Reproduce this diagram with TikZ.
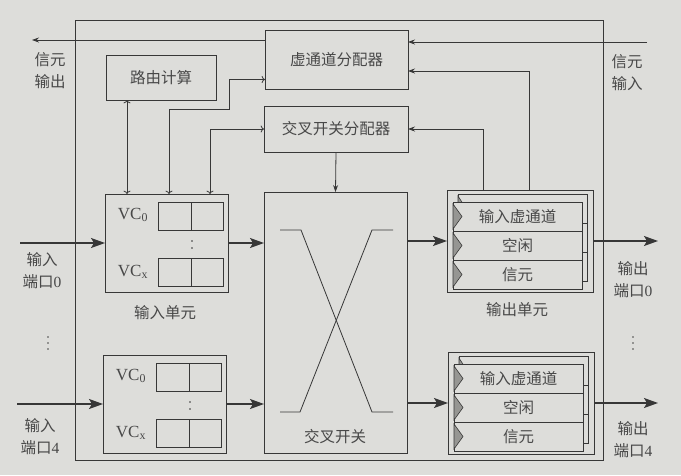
\documentclass[tikz,border=0pt]{standalone}
\usepackage{fontspec}
\setmainfont{Liberation Serif}
\newfontfamily\cjk{Noto Sans CJK SC}
\usetikzlibrary{arrows.meta}

\definecolor{bgcol}{RGB}{221,221,218}
\definecolor{linecol}{RGB}{55,55,55}
\definecolor{textcol}{RGB}{72,72,72}
\definecolor{tabcol}{RGB}{150,150,147}

\tikzset{
  box/.style={draw=linecol, line width=0.9pt, fill=bgcol, anchor=north west,
    inner sep=0pt, outer sep=0pt, text=textcol, font=\cjk\fontsize{15.5}{22}\selectfont},
  buf/.style={draw=linecol, line width=0.9pt, anchor=north west, inner sep=0pt,
    minimum width=65pt, minimum height=28pt},
  row/.style={box, line width=0.8pt, minimum width=129pt, minimum height=29pt},
  lbl/.style={text=textcol, font=\cjk\fontsize{15.5}{22}\selectfont, align=center, inner sep=0pt},
  vc/.style={text=textcol, font=\fontsize{17}{20}\selectfont, inner sep=0pt},
  tab/.style={draw=linecol, line width=0.6pt, fill=tabcol},
  data/.style={draw=linecol, line width=1.4pt, -{Stealth[length=14pt,width=10pt,inset=3pt]}},
  ctrl/.style={draw=linecol, line width=0.8pt, -{Stealth[length=7pt,width=5pt]}}
}

\begin{document}
\begin{tikzpicture}[x=1pt,y=-1pt]
  % Background and page size
  \fill[bgcol] (0,0) rectangle (681,475);
  \useasboundingbox (0,0) rectangle (681,475);

  % Router frame
  \draw[linecol, line width=0.9pt] (75,20) rectangle (603,460);

  % Allocators and route computation
  \node[box, minimum width=110pt, minimum height=45pt] (rc) at (106,55) {路由计算};
  \node[box, minimum width=143pt, minimum height=59pt] (vca) at (265,30) {虚通道分配器};
  \node[box, minimum width=144pt, minimum height=46pt] (xa) at (264,106) {交叉开关分配器};

  % Crossbar switch
  \node[box, minimum width=143pt, minimum height=261pt] (xbar) at (264,192) {};
  \draw[linecol, line width=0.8pt] (280,230) -- (301,230) -- (372,412) -- (393,412);
  \draw[linecol, line width=0.8pt] (280,412) -- (300,412) -- (372,230) -- (393,230);
  \node[lbl] (lxbar) at (335,437) {交叉开关};

  % Input units
  \foreach \u/\x/\y in {0/105/194, 4/103/355} {
    \node[box, minimum width=123pt, minimum height=98pt] (iu\u) at (\x,\y) {};
    \node[buf] (iu\u-a) at (\x+53,\y+8) {};
    \node[buf] (iu\u-b) at (\x+53,\y+64) {};
    \draw[linecol, line width=0.9pt] (iu\u-a.north) -- (iu\u-a.south);
    \draw[linecol, line width=0.9pt] (iu\u-b.north) -- (iu\u-b.south);
    \node[vc] at (\x+28,\y+21) {VC\textsubscript{0}};
    \node[vc] at (\x+28,\y+78) {VC\textsubscript{x}};
    \fill[linecol] (\x+87,\y+47) circle (0.9pt) (\x+87,\y+54) circle (0.9pt);
  }
  \node[lbl] (liu) at (165,313) {输入单元};

  % Output units (stacked virtual channel cards)
  \foreach \u/\x/\y in {0/447/190, 4/448/352} {
    \node[box, minimum width=146pt, minimum height=102pt] (ou\u) at (\x,\y) {};
    \foreach \r in {0,1,2} {
      \draw[linecol, fill=bgcol, line width=0.7pt] (\x+11,\y+4+29*\r) rectangle ++(129,29);
      \draw[tab] (\x+11,\y+6+29*\r) -- (\x+19,\y+18.5+29*\r) -- (\x+11,\y+31+29*\r) -- cycle;
    }
    \foreach \r/\t in {0/输入虚通道, 1/空闲, 2/信元} {
      \node[row] (ou\u-\r) at (\x+6,\y+12+29*\r) {\t};
      \draw[tab] (\x+6,\y+14+29*\r) -- (\x+15,\y+26.5+29*\r) -- (\x+6,\y+39+29*\r) -- cycle;
    }
  }
  \node[lbl] (lou) at (517,310) {输出单元};

  % Port labels
  \node[lbl] (lcout) at (50,71) {信元\\输出};
  \node[lbl] (lcin) at (627,73) {信元\\输入};
  \node[lbl] (lin0) at (42,271) {输入\\端口{\normalfont 0}};
  \node[lbl] (lin4) at (40,437) {输入\\端口{\normalfont 4}};
  \node[lbl] (lout0) at (633,280) {输出\\端口{\normalfont 0}};
  \node[lbl] (lout4) at (633,440) {输出\\端口{\normalfont 4}};
  \foreach \px in {48,633}
    \fill[textcol] (\px,337) circle (0.9pt) (\px,343) circle (0.9pt) (\px,349) circle (0.9pt);

  % Data path
  \coordinate (in0) at (20,243);
  \coordinate (in4) at (17,404);
  \coordinate (out0) at (658,241);
  \coordinate (out4) at (658,403);
  \draw[data] (in0) -- (iu0.west);
  \draw[data] (in4) -- (iu4.west);
  \draw[data] (iu0.east) -- (xbar.west |- iu0.east);
  \draw[data] (iu4.east) -- (xbar.west |- iu4.east);
  \draw[data] (xbar.east |- ou0.west) -- (ou0.west);
  \draw[data] (xbar.east |- ou4.west) -- (ou4.west);
  \draw[data] (ou0.east) -- (out0);
  \draw[data] (ou4.east) -- (out4);

  % Control signals
  \draw[ctrl, <->] ([xshift=22pt]iu0.north west) -- ([xshift=22pt]iu0.north west |- rc.south);
  \draw[ctrl, <->] ([xshift=64pt]iu0.north west) |- (229,109) |- ([yshift=-20pt]vca.west);
  \draw[ctrl, <->] ([xshift=105pt]iu0.north west) |- (xa.west);
  \draw[ctrl] ([xshift=36pt]ou0.north west) |- (xa.east);
  \draw[ctrl] ([xshift=82pt]ou0.north west) |- ([yshift=-11.5pt]vca.east);
  \draw[ctrl] (xa.south) -- (xbar.north);

  % Credits
  \coordinate (cin) at (647,42);
  \coordinate (cout) at (32,40);
  \draw[ctrl] (cin) -- (vca.east |- cin);
  \draw[ctrl] (vca.west |- cout) -- (cout);
\end{tikzpicture}
\end{document}
